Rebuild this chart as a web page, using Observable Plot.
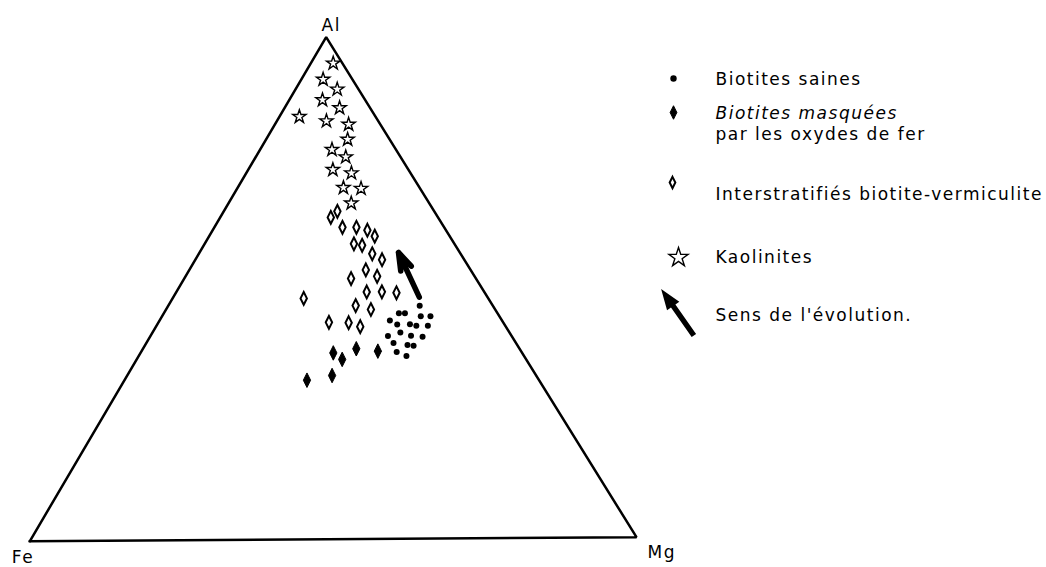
<!DOCTYPE html>
<html>
<head>
<meta charset="utf-8">
<script src="https://cdn.jsdelivr.net/npm/d3@7"></script>
<script src="https://cdn.jsdelivr.net/npm/@observablehq/plot@0.6"></script>
<style>
  body { margin: 0; background: #fff; }
  svg text { letter-spacing: 1.5px; }
</style>
</head>
<body>
<div id="chart"></div>
<script>
// Compositions, as [Al, Fe, Mg] in %
const biotitesSaines = [
  [46.4,12.0,41.6],[44.9,16.2,38.9],[44.9,15.2,39.9],[44.3,12.9,42.8],[44.3,11.3,44.4],
  [43.5,18.4,38.1],[42.7,17.6,39.7],[42.7,15.5,41.8],[42.4,14.6,43.0],[42.4,12.7,44.9],
  [41.1,17.9,41.0],[40.4,20.3,39.3],[40.4,16.5,43.1],[40.2,14.7,45.1],[39.0,20.1,40.9],
  [38.6,18.0,43.4],[38.4,17.1,44.5],[37.2,20.5,42.3],[36.4,19.3,44.3]
];
const biotitesMasquees = [
  [37.1,31.0,31.9],[35.8,30.2,34.0],[37.9,26.8,35.3],[37.4,23.5,39.1],[31.7,38.1,30.2],[32.6,33.5,33.9]
];
const interstratifies = [
  [65.3,15.9,18.8],[64.1,17.6,18.3],[62.1,16.7,21.2],[62.1,14.4,23.5],[61.5,12.9,25.6],
  [60.3,12.3,27.4],[58.8,16.5,24.7],[58.5,15.3,26.2],[56.8,14.5,28.7],[55.6,13.5,30.9],
  [53.6,17.2,29.2],[51.9,20.5,27.6],[52.3,16.0,31.7],[49.2,19.3,31.5],[49.2,16.8,34.0],
  [49.0,14.5,36.5],[48.0,30.3,21.7],[46.5,22.5,31.0],[45.7,20.4,33.9],[43.2,28.6,28.2],
  [43.1,25.4,31.5],[42.3,23.9,33.8]
];
const kaolinites = [
  [94.8,1.5,3.7],[91.6,4.8,3.6],[89.6,3.5,6.9],[87.5,7.0,5.5],[85.9,5.0,9.1],
  [84.2,12.5,3.3],[83.3,8.5,8.2],[82.6,5.2,12.2],[79.6,6.9,13.5],[77.6,10.5,11.9],
  [76.1,9.0,14.9],[73.6,12.4,14.0],[72.9,9.7,17.4],[70.0,12.5,17.5],[69.8,9.7,20.5],
  [66.9,12.8,20.3]
];
// Sens de l'évolution: from -> to
const evolutionFrom = [48.1,11.2,40.7];
const evolutionTo   = [58.3,9.9,31.8];

const vertexNames = ["Al","Fe","Mg"];
const legendLabels = [
  "Biotites saines",
  "Biotites masquées",
  "par les oxydes de fer",
  "Interstratifiés biotite-vermiculite",
  "Kaolinites",
  "Sens de l'évolution."
];

// Geometry of the drawn triangle (vertex positions in diagram units)
const VERTEX = {Fe: [0, 0], Mg: [1, 0.008], Al: [0.4885, 1]};
function project([Al, Fe, Mg]) {
  const s = Al + Fe + Mg, a = Al / s, f = Fe / s, m = Mg / s;
  return {
    x: a * VERTEX.Al[0] + f * VERTEX.Fe[0] + m * VERTEX.Mg[0],
    y: a * VERTEX.Al[1] + f * VERTEX.Fe[1] + m * VERTEX.Mg[1]
  };
}
const vertices = vertexNames.map(n => ({name: n, ...project([n==="Al"?100:0, n==="Fe"?100:0, n==="Mg"?100:0])}));
const triangle = [vertices[1], vertices[2], vertices[0], vertices[1]];

const saines = biotitesSaines.map(project);
const masquees = biotitesMasquees.map(project);
const inter = interstratifies.map(project);
const kaol = kaolinites.map(project);
const p1 = project(evolutionFrom), p2 = project(evolutionTo);
const evolution = [{x1: p1.x, y1: p1.y, x2: p2.x, y2: p2.y}];

// Custom symbols
const slimDiamond = {
  draw(context, size) {
    const k = 0.5;
    const h = Math.sqrt(size / (2 * k)), w = k * h;
    context.moveTo(0, -h); context.lineTo(w, 0); context.lineTo(0, h); context.lineTo(-w, 0); context.closePath();
  }
};
const legendArrow = {
  draw(context) {
    const L = 57, ang = Math.atan2(-46.7, -32.8);
    const ux = Math.cos(ang), uy = Math.sin(ang), nx = -uy, ny = ux;
    const hw = 2.7, hh = 7.5, hl = 21;
    const T = [-ux * L / 2, -uy * L / 2], H = [ux * L / 2, uy * L / 2];
    const B = [H[0] - ux * hl, H[1] - uy * hl];
    context.moveTo(T[0] + nx * hw, T[1] + ny * hw);
    context.lineTo(B[0] + nx * hw, B[1] + ny * hw);
    context.lineTo(B[0] + nx * hh, B[1] + ny * hh);
    context.lineTo(H[0], H[1]);
    context.lineTo(B[0] - nx * hh, B[1] - ny * hh);
    context.lineTo(B[0] - nx * hw, B[1] - ny * hw);
    context.lineTo(T[0] - nx * hw, T[1] - ny * hw);
    context.closePath();
  }
};

const FONT = "DejaVu Sans";
const FS = 17;
const one = [null];

const plot = Plot.plot({
  width: 1046,
  height: 567,
  margin: 0,
  x: {domain: [0, 1], range: [29.3, 636], axis: null},
  y: {domain: [0, 1], range: [540.7, 36.7], axis: null},
  style: {background: "white", fontFamily: FONT},
  marks: [
    Plot.line(triangle, {x: "x", y: "y", stroke: "black", strokeWidth: 2.5, strokeLinejoin: "miter", strokeLinecap: "square"}),
    Plot.text(vertices.filter(d => d.name === "Al"), {x: "x", y: "y", text: "name", dx: 5, dy: -6.5, textAnchor: "middle", lineAnchor: "bottom", fontSize: FS, fontFamily: FONT, fill: "black"}),
    Plot.text(vertices.filter(d => d.name === "Fe"), {x: "x", y: "y", text: "name", dx: -18, dy: 21.5, textAnchor: "start", lineAnchor: "bottom", fontSize: FS, fontFamily: FONT, fill: "black"}),
    Plot.text(vertices.filter(d => d.name === "Mg"), {x: "x", y: "y", text: "name", dx: 11, dy: 20.5, textAnchor: "start", lineAnchor: "bottom", fontSize: FS, fontFamily: FONT, fill: "black"}),

    Plot.dot(kaol, {x: "x", y: "y", symbol: "star", r: 4.2, stroke: "black", strokeWidth: 1.4, fill: "none"}),
    Plot.dot(inter, {x: "x", y: "y", symbol: slimDiamond, r: 3.6, stroke: "black", strokeWidth: 2, fill: "none"}),
    Plot.dot(masquees, {x: "x", y: "y", symbol: slimDiamond, r: 4.1, stroke: "black", strokeWidth: 1, fill: "black"}),
    Plot.dot(saines, {x: "x", y: "y", r: 3, fill: "black", stroke: "none"}),
    Plot.arrow(evolution, {x1: "x1", y1: "y1", x2: "x2", y2: "y2", stroke: "black", strokeWidth: 5.5, headAngle: 36, headLength: 5.2, insetEnd: 7}),

    // Legend
    Plot.dot(one, {frameAnchor: "top-left", dx: 673, dy: 78, r: 3.2, fill: "black"}),
    Plot.dot(one, {frameAnchor: "top-left", dx: 673, dy: 112, symbol: slimDiamond, r: 3.8, fill: "black", stroke: "black", strokeWidth: 1}),
    Plot.dot(one, {frameAnchor: "top-left", dx: 672, dy: 182, symbol: slimDiamond, r: 3.2, fill: "none", stroke: "black", strokeWidth: 2}),
    Plot.dot(one, {frameAnchor: "top-left", dx: 678, dy: 257, symbol: "star", r: 6, fill: "none", stroke: "black", strokeWidth: 1.4}),
    Plot.dot(one, {frameAnchor: "top-left", dx: 677, dy: 311.7, symbol: legendArrow, r: 5, fill: "black", stroke: "none"}),

    Plot.text([legendLabels[0]], {frameAnchor: "top-left", text: d => d, dx: 715, dy: 84, textAnchor: "start", lineAnchor: "bottom", fontSize: FS, fontFamily: FONT, fill: "black"}),
    Plot.text([legendLabels[1]], {frameAnchor: "top-left", text: d => d, dx: 715, dy: 118, textAnchor: "start", lineAnchor: "bottom", fontSize: FS, fontFamily: FONT, fontStyle: "italic", fill: "black"}),
    Plot.text([legendLabels[2]], {frameAnchor: "top-left", text: d => d, dx: 715, dy: 139, textAnchor: "start", lineAnchor: "bottom", fontSize: FS, fontFamily: FONT, fill: "black"}),
    Plot.text([legendLabels[3]], {frameAnchor: "top-left", text: d => d, dx: 715, dy: 199, textAnchor: "start", lineAnchor: "bottom", fontSize: FS, fontFamily: FONT, fill: "black"}),
    Plot.text([legendLabels[4]], {frameAnchor: "top-left", text: d => d, dx: 715, dy: 262, textAnchor: "start", lineAnchor: "bottom", fontSize: FS, fontFamily: FONT, fill: "black"}),
    Plot.text([legendLabels[5]], {frameAnchor: "top-left", text: d => d, dx: 715, dy: 320, textAnchor: "start", lineAnchor: "bottom", fontSize: FS, fontFamily: FONT, fill: "black"})
  ]
});
document.getElementById("chart").appendChild(plot);
</script>
</body>
</html>
